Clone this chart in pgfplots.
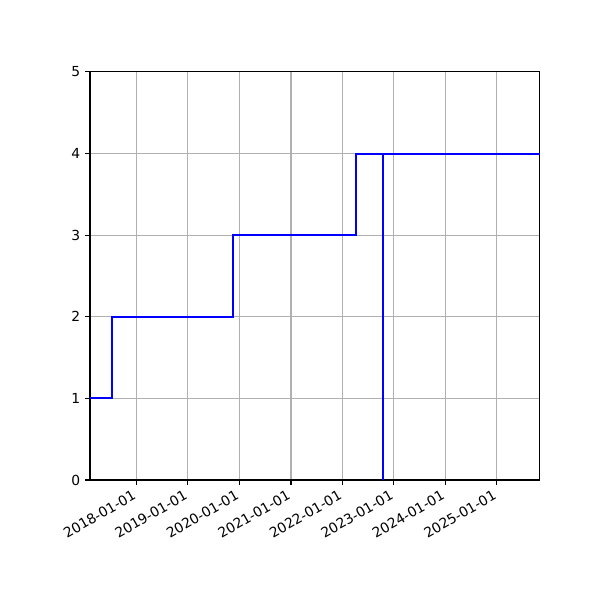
\documentclass[border=0pt]{standalone}
\usepackage{pgfplots}
\pgfplotsset{compat=1.18}
\usepackage{fontspec}
\setmainfont{DejaVu Sans}
\begin{document}
\begin{tikzpicture}
\path[use as bounding box] (-65.04pt,-86.72pt) rectangle (368.6pt,347.0pt);
\begin{axis}[
  at={(0,0)}, anchor=south west,
  scale only axis, width=325.2pt, height=295pt,
  xmin=-330, xmax=2862, ymin=0, ymax=5,
  xtick={0,365,730,1096,1461,1826,2191,2557},
  xticklabels={2018-01-01,2019-01-01,2020-01-01,2021-01-01,2022-01-01,2023-01-01,2024-01-01,2025-01-01},
  ytick={0,1,2,3,4,5},
  /pgf/number format/assume math mode=true,
  x tick label style={rotate=30, anchor=north east, font=\fontsize{10}{12}\selectfont, inner sep=1pt, xshift=-3.5pt},
  y tick label style={font=\fontsize{10}{12}\selectfont},
  tick align=outside, tick pos=left,
  major tick length=3.5pt,
  every tick/.style={black, line width=0.8pt},
  axis line style={line width=0.8pt},
  grid=major,
  major grid style={color={rgb,255:red,176;green,176;blue,176}, line width=0.8pt},
]
\addplot[blue, line width=1.5pt, line join=miter] coordinates {
(-330,1) (-174,1) (-174,2) (684,2) (684,3) (1557,3) (1557,4) (1748,4) (1748,0) (1748,4) (2862,4)
};
\end{axis}
\end{tikzpicture}
\end{document}
